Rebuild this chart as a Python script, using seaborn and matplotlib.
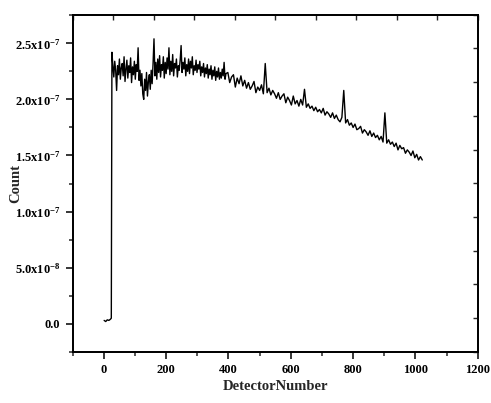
import numpy as np
import pandas as pd
import matplotlib
matplotlib.use("Agg")
import matplotlib.pyplot as plt
import seaborn as sns

# ---- data (count in units of 1e-7) ----
detector_low = [1, 6, 11, 16, 21, 24]
count_low = [0.03, 0.02, 0.035, 0.03, 0.04, 0.05]

detector_early = list(range(26, 395, 3))
count_early = [
    2.42, 2.30, 2.20, 2.34, 2.26, 2.08, 2.30, 2.22, 2.36, 2.18,
    2.28, 2.32, 2.21, 2.38, 2.16, 2.27, 2.35, 2.19, 2.30, 2.24,
    2.37, 2.15, 2.29, 2.22, 2.34, 2.18, 2.31, 2.25, 2.46, 2.17,
    2.26, 2.12, 2.23, 2.05, 2.00, 2.18, 2.08, 2.24, 2.03, 2.16,
    2.22, 2.09, 2.26, 2.14, 2.32, 2.54, 2.21, 2.33, 2.18, 2.36,
    2.24, 2.39, 2.20, 2.31, 2.26, 2.38, 2.19, 2.33, 2.23, 2.37,
    2.27, 2.46, 2.22, 2.34, 2.25, 2.40, 2.21, 2.32, 2.28, 2.36,
    2.20, 2.30, 2.26, 2.35, 2.48, 2.24, 2.33, 2.27, 2.37, 2.21,
    2.31, 2.25, 2.36, 2.23, 2.34, 2.28, 2.38, 2.22, 2.30, 2.26,
    2.35, 2.24, 2.31, 2.27, 2.34, 2.21, 2.29, 2.24, 2.32, 2.20,
    2.28, 2.23, 2.31, 2.19, 2.27, 2.22, 2.30, 2.18, 2.26, 2.21,
    2.29, 2.17, 2.25, 2.20, 2.28, 2.18, 2.24, 2.19, 2.27, 2.21,
    2.33, 2.18, 2.23,
]

detector_late = list(range(398, 1023, 6))
count_late = [
    2.24, 2.15, 2.20, 2.22, 2.11, 2.19, 2.14, 2.21, 2.12, 2.17, 2.10,
    2.15, 2.09, 2.12, 2.16, 2.06, 2.11, 2.08, 2.13, 2.05, 2.32,
    2.06, 2.10, 2.04, 2.08, 2.05, 2.01,
    2.06, 2.00, 2.03, 2.05, 1.97, 2.02, 1.99, 1.95, 2.03, 1.96,
    1.99, 1.94, 2.00, 1.95, 2.09, 1.93,
    1.96, 1.92, 1.94, 1.90, 1.93, 1.89, 1.91, 1.88, 1.92, 1.86,
    1.89, 1.87, 1.84, 1.88, 1.83, 1.86, 1.82, 1.80, 1.84, 2.08, 1.79,
    1.82, 1.77, 1.79, 1.75, 1.78, 1.73, 1.74, 1.76, 1.70, 1.73,
    1.71, 1.68, 1.72, 1.67, 1.70, 1.66, 1.68, 1.64, 1.67, 1.62,
    1.88, 1.61,
    1.64, 1.60, 1.62, 1.58, 1.61, 1.55, 1.59, 1.56, 1.57, 1.52,
    1.55, 1.53, 1.50, 1.54, 1.48, 1.51, 1.46, 1.49, 1.46,
]

x_ticks = [0, 200, 400, 600, 800, 1000, 1200]
y_ticks = [0.0, 5e-8, 1e-7, 1.5e-7, 2e-7, 2.5e-7]
y_tick_labels = ["0.0", r"5.0x10$^{-8}$", r"1.0x10$^{-7}$", r"1.5x10$^{-7}$",
                 r"2.0x10$^{-7}$", r"2.5x10$^{-7}$"]

ne = min(len(detector_early), len(count_early))
nl = min(len(detector_late), len(count_late))
df = pd.DataFrame({
    "DetectorNumber": detector_low + detector_early[:ne] + detector_late[:nl],
    "Count": [v * 1e-7 for v in count_low + count_early[:ne] + count_late[:nl]],
})

sns.set_style("ticks")
plt.rcParams["font.family"] = ["Liberation Serif", "DejaVu Serif"]
plt.rcParams["font.weight"] = "bold"
plt.rcParams["mathtext.fontset"] = "custom"
plt.rcParams["mathtext.rm"] = "Liberation Serif:bold"
plt.rcParams["mathtext.it"] = "Liberation Serif:bold"
plt.rcParams["mathtext.bf"] = "Liberation Serif:bold"

fig = plt.figure(figsize=(4.91, 4.03), dpi=100)
ax = fig.add_axes([0.148, 0.127, 0.825, 0.8365])

sns.lineplot(data=df, x="DetectorNumber", y="Count", ax=ax, color="black",
             linewidth=1.0, estimator=None, sort=False)

ax.set_xlim(-100, 1200)
ax.set_ylim(-2.5e-8, 2.755e-7)
ax.set_xticks(x_ticks)
ax.set_xticks(np.arange(-100, 1201, 100), minor=True)
ax.set_yticks(y_ticks)
ax.set_yticks(np.arange(-2.5e-8, 2.76e-7, 2.5e-8), minor=True)
ax.set_yticklabels(y_tick_labels)
ax.tick_params(axis="both", which="major", direction="out", length=5, width=1.1,
               labelsize=9, pad=4, colors="black")
ax.tick_params(axis="both", which="minor", direction="out", length=3, width=1.1)
for lab in ax.get_xticklabels() + ax.get_yticklabels():
    lab.set_fontweight("bold")

ax.set_xlabel("DetectorNumber", fontsize=10.5, fontweight="bold")
ax.set_ylabel("Count", fontsize=10.5, fontweight="bold")
ax.xaxis.set_label_coords(0.5, -0.085)
ax.yaxis.set_label_coords(-0.125, 0.5)

for s in ax.spines.values():
    s.set_visible(True)
    s.set_linewidth(1.1)
    s.set_color("black")

# top / right auxiliary axes with inward ticks and no labels
tx = ax.twiny()
tx.set_xlim(0, 1)
tx.set_xticks(np.linspace(0, 1, 11))
tx.tick_params(axis="x", direction="in", length=3.5, width=1.0, labeltop=False, top=True)
ty = ax.twinx()
ty.set_ylim(0, 1)
ty.set_yticks(np.linspace(0, 1, 11))
ty.tick_params(axis="y", direction="in", length=3.5, width=1.0, labelright=False, right=True)
for a in (tx, ty):
    for s in a.spines.values():
        s.set_linewidth(1.1)
        s.set_color("black")

fig.savefig("out.png", dpi=100, facecolor="white")
